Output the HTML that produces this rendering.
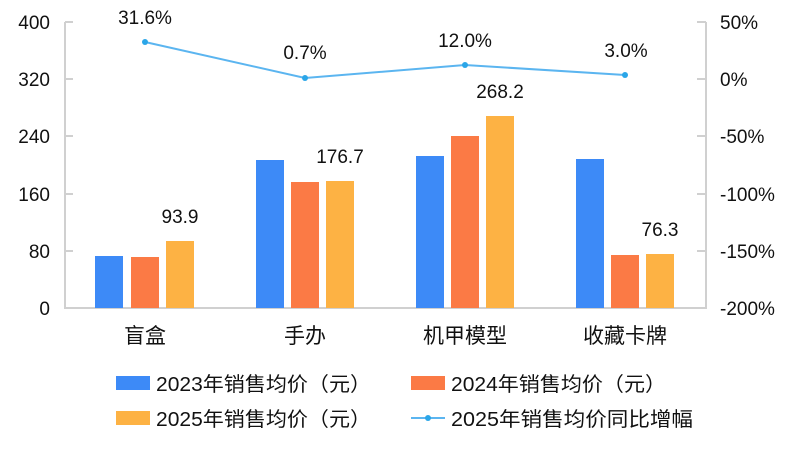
<!DOCTYPE html>
<html><head><meta charset="utf-8"><style>
html,body{margin:0;padding:0;background:#fff;}
svg{display:block;font-family:"Liberation Sans","Noto Sans CJK SC",sans-serif;}
</style></head><body>
<svg width="799" height="450" viewBox="0 0 799 450">
<g stroke="#d0d0d0" stroke-width="2" fill="none">
<line x1="65" y1="22" x2="65" y2="308"/>
<line x1="706" y1="22" x2="706" y2="308"/>
<line x1="64" y1="308" x2="707" y2="308"/>
<line x1="65" y1="22" x2="73" y2="22"/><line x1="65" y1="79" x2="73" y2="79"/><line x1="65" y1="136" x2="73" y2="136"/><line x1="65" y1="194" x2="73" y2="194"/><line x1="65" y1="251" x2="73" y2="251"/>
<line x1="697" y1="22" x2="706" y2="22"/><line x1="697" y1="79" x2="706" y2="79"/><line x1="697" y1="136" x2="706" y2="136"/><line x1="697" y1="194" x2="706" y2="194"/><line x1="697" y1="251" x2="706" y2="251"/>
</g>
<g font-size="19" fill="#111" text-anchor="end">
<text x="50" y="29">400</text><text x="50" y="86">320</text><text x="50" y="143">240</text><text x="50" y="201">160</text><text x="50" y="258">80</text><text x="50" y="315">0</text>
</g>
<g font-size="19" fill="#111">
<text x="720" y="29">50%</text><text x="720" y="86">0%</text><text x="720" y="143">-50%</text><text x="720" y="201">-100%</text><text x="720" y="258">-150%</text><text x="720" y="315">-200%</text>
</g>
<g fill="#3d8af7">
<rect x="95" y="256" width="28" height="52"/><rect x="256" y="160" width="28" height="148"/><rect x="416" y="156" width="28" height="152"/><rect x="576" y="159" width="28" height="149"/>
</g>
<g fill="#fb7a45">
<rect x="131" y="257" width="28" height="51"/><rect x="291" y="182" width="28" height="126"/><rect x="451" y="136" width="28" height="172"/><rect x="611" y="255" width="28" height="53"/>
</g>
<g fill="#fdb244">
<rect x="166" y="241" width="28" height="67"/><rect x="326" y="181" width="28" height="127"/><rect x="486" y="116" width="28" height="192"/><rect x="646" y="254" width="28" height="54"/>
</g>
<polyline points="145,42 305,78 465,65 625,75" fill="none" stroke="#5bb5f0" stroke-width="2"/>
<g fill="#2ba6e8"><circle cx="145" cy="42" r="3"/><circle cx="305" cy="78" r="3"/><circle cx="465" cy="65" r="3"/><circle cx="625" cy="75" r="3"/></g>
<g font-size="19" fill="#111" text-anchor="middle">
<text x="145" y="24">31.6%</text><text x="305" y="59">0.7%</text><text x="465" y="47">12.0%</text><text x="626" y="57">3.0%</text>
<text x="180" y="223">93.9</text><text x="340" y="163">176.7</text><text x="500" y="98">268.2</text><text x="660" y="236">76.3</text>
</g>
<g font-size="21" fill="#111" text-anchor="middle">
<text x="145" y="343">盲盒</text><text x="305" y="343">手办</text><text x="465" y="343">机甲模型</text><text x="625" y="343">收藏卡牌</text>
</g>
<rect x="116" y="376" width="34" height="14" fill="#3d8af7"/>
<rect x="411" y="376" width="34" height="14" fill="#fb7a45"/>
<rect x="116" y="411" width="34" height="14" fill="#fdb244"/>
<line x1="411" y1="418" x2="445" y2="418" stroke="#5bb5f0" stroke-width="2"/><circle cx="428" cy="418" r="3" fill="#2ba6e8"/>
<g font-size="20" fill="#111">
<text x="156" y="391" textLength="215" lengthAdjust="spacingAndGlyphs">2023年销售均价（元）</text>
<text x="451" y="391" textLength="215" lengthAdjust="spacingAndGlyphs">2024年销售均价（元）</text>
<text x="156" y="426" textLength="215" lengthAdjust="spacingAndGlyphs">2025年销售均价（元）</text>
<text x="451" y="426" textLength="242" lengthAdjust="spacingAndGlyphs">2025年销售均价同比增幅</text>
</g>
</svg>
</body></html>
